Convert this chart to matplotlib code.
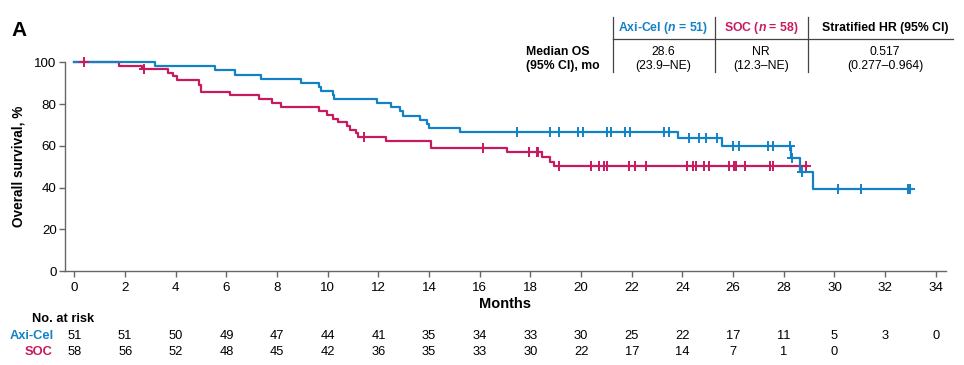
import numpy as np
import matplotlib.pyplot as plt
from matplotlib.transforms import blended_transform_factory

plt.rcParams['font.family'] = ['Liberation Sans', 'DejaVu Sans']
plt.rcParams['mathtext.fontset'] = 'custom'
plt.rcParams['mathtext.bfit'] = 'Liberation Sans:italic:bold'
plt.rcParams['mathtext.it'] = 'Liberation Sans:italic'

BLUE = "#1381C6"
RED = "#C81A5E"

# ------- KM DATA ----------------------------

# Axi-Cel: step times and survival after each step
axi_t = [0, 3.18, 5.55, 6.34, 7.36, 8.94, 9.65, 9.72, 10.19, 10.24, 11.93, 12.50,
         12.85, 12.96, 13.64, 13.90, 13.98, 15.22, 23.84, 25.55, 28.28, 28.64, 29.14]
axi_s = [100, 98.0, 96.1, 94.1, 92.2, 90.2, 88.2, 86.3, 84.3, 82.4, 80.4, 78.4,
         76.5, 74.5, 72.5, 70.6, 68.6, 66.7, 63.7, 60.1, 54.0, 47.3, 39.1]
axi_end = 33.05
axi_cens = [17.48, 18.77, 19.13, 19.89, 20.06, 21.01, 21.17, 21.73, 21.93, 23.27,
            23.48, 24.27, 24.67, 24.93, 25.35, 26.01, 26.23, 27.39, 27.59, 28.25,
            28.34, 28.71, 30.15, 31.04, 32.92, 32.98]

# SOC
soc_t = [0, 1.77, 2.66, 3.70, 3.87, 4.05, 4.93, 4.98, 6.13, 7.29, 7.78, 8.16,
         9.66, 9.95, 10.19, 10.39, 10.77, 10.88, 11.10, 11.18, 12.30, 14.07,
         17.06, 18.44, 18.77, 18.94]
soc_s = [100, 98.3, 96.6, 94.9, 93.2, 91.3, 89.3, 85.9, 84.2, 82.2, 80.5, 78.6,
         76.8, 74.9, 73.0, 71.4, 69.6, 67.7, 65.9, 64.2, 62.4, 58.7,
         56.8, 54.6, 52.4, 50.1]
soc_end = 28.91
soc_cens = [0.37, 2.76, 11.43, 16.12, 17.95, 18.25, 18.31, 19.14, 20.38, 20.72,
            20.92, 21.01, 21.90, 22.13, 22.55, 24.17, 24.41, 24.54, 24.86, 25.06,
            25.85, 26.04, 26.12, 26.47, 27.46, 27.59, 28.87]

# numbers at risk
risk_months = list(range(0, 35, 2))
axi_risk = [51, 51, 50, 49, 47, 44, 41, 35, 34, 33, 30, 25, 22, 17, 11, 5, 3, 0]
soc_risk = [58, 56, 52, 48, 45, 42, 36, 35, 33, 30, 22, 17, 14, 7, 1, 0]


def surv_at(times, surv, x):
    idx = np.searchsorted(times, x, side='right') - 1
    return np.array(surv)[idx]


W, H = 964, 365
fig = plt.figure(figsize=(W / 100, H / 100), dpi=100)
ax = fig.add_axes([65 / W, 1 - 271 / H, (945.7 - 65) / W, (271 - 62.3) / H])


def fx(px):
    return px / W


def fy(py):
    return 1 - py / H


for t, s, end, cens, col in [(soc_t, soc_s, soc_end, soc_cens, RED),
                              (axi_t, axi_s, axi_end, axi_cens, BLUE)]:
    ax.step(t + [end], s + [s[-1]], where='post', color=col, lw=1.6,
            clip_on=False, zorder=3)
    ax.plot(cens, surv_at(t, s, cens), ls='none', marker='+', ms=7, mew=1.4,
            color=col, clip_on=False, zorder=4)

ax.set_xlim(-0.375, 34.39)
ax.set_ylim(0, 100)
ax.set_xticks(range(0, 35, 2))
ax.set_yticks(range(0, 101, 20))
for side in ['top', 'right']:
    ax.spines[side].set_visible(False)
for side in ['left', 'bottom']:
    ax.spines[side].set_color('#666666')
    ax.spines[side].set_linewidth(1.0)
ax.tick_params(axis='both', colors='#666666', labelcolor='black', labelsize=9.6,
               length=4, width=1.0)
ax.tick_params(axis='x', pad=4)
ax.tick_params(axis='y', pad=2)

fig.text(fx(19), fy(166.5), "Overall survival, %", rotation=90, ha='center',
         va='center', fontsize=9.8, fontweight='bold')
fig.text(fx(505), fy(304.5), "Months", ha='center', va='center', fontsize=10.5,
         fontweight='bold')
fig.text(fx(11), fy(31), "A", ha='left', va='center', fontsize=15, fontweight='bold')

# ------- NUMBERS AT RISK --------
tr = blended_transform_factory(ax.transData, fig.transFigure)
fig.text(fx(32), fy(319), "No. at risk", ha='left', va='center', fontsize=9.3,
         fontweight='bold')
fig.text(fx(54), fy(336), "Axi-Cel", ha='right', va='center', fontsize=9.3,
         fontweight='bold', color=BLUE)
fig.text(fx(53), fy(352), "SOC", ha='right', va='center', fontsize=9.3,
         fontweight='bold', color=RED)
for m, n in zip(risk_months, axi_risk):
    ax.text(m, fy(336), str(n), transform=tr, ha='center', va='center', fontsize=9.3)
for m, n in zip(risk_months, soc_risk):
    ax.text(m, fy(352), str(n), transform=tr, ha='center', va='center', fontsize=9.3)

# ------- TABLE --------
for xv in [612.7, 715, 808]:
    fig.add_artist(plt.Line2D([fx(xv), fx(xv)], [fy(17), fy(72)], color='#444444',
                              lw=0.9, transform=fig.transFigure))
fig.add_artist(plt.Line2D([fx(612.7), fx(953)], [fy(39.3), fy(39.3)], color='#444444',
                          lw=0.9, transform=fig.transFigure))

fig.text(fx(663), fy(27.5), r"Axi-Cel ($\mathbfit{n}$ = 51)", ha='center', va='center',
         fontsize=8.8, fontweight='bold', color=BLUE)
fig.text(fx(761), fy(27.5), r"SOC ($\mathbfit{n}$ = 58)", ha='center', va='center',
         fontsize=8.8, fontweight='bold', color=RED)
fig.text(fx(885), fy(27.5), "Stratified HR (95% CI)", ha='center', va='center',
         fontsize=8.8, fontweight='bold')
fig.text(fx(526.5), fy(51.7), "Median OS", ha='left', va='center', fontsize=8.8,
         fontweight='bold')
fig.text(fx(526.5), fy(65.5), "(95% CI), mo", ha='left', va='center', fontsize=8.8,
         fontweight='bold')
for xc, a, b in [(663, "28.6", "(23.9\u2013NE)"), (761, "NR", "(12.3\u2013NE)"),
                 (885, "0.517", "(0.277\u20130.964)")]:
    fig.text(fx(xc), fy(51.7), a, ha='center', va='center', fontsize=8.8)
    fig.text(fx(xc), fy(65.5), b, ha='center', va='center', fontsize=8.8)

fig.savefig("out.png", dpi=100)
